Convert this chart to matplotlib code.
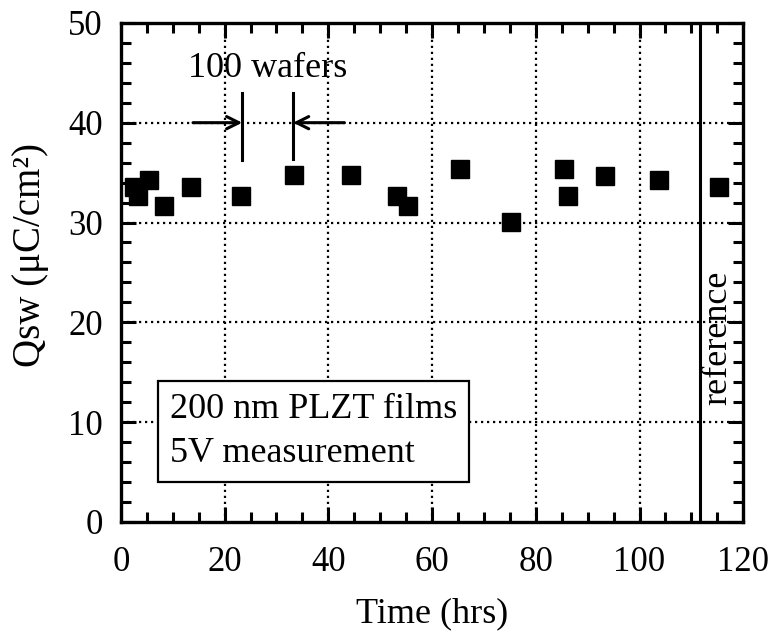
import matplotlib
matplotlib.use("Agg")
import matplotlib.pyplot as plt
from matplotlib.ticker import MultipleLocator

plt.rcParams['font.family'] = ['Liberation Serif', 'DejaVu Serif']

# Qsw vs time
time_hrs = [2.5, 3.3, 5.4, 8.3, 13.5, 23.2, 33.4, 44.4, 53.3, 55.4,
            65.4, 75.3, 85.5, 86.3, 93.4, 103.7, 115.4]
qsw = [33.6, 32.7, 34.3, 31.7, 33.6, 32.7, 34.8, 34.8, 32.7, 31.7,
       35.4, 30.1, 35.4, 32.7, 34.7, 34.3, 33.6]

ref_line_x = 111.7
bar_left, bar_right = 23.4, 33.2

fig = plt.figure(figsize=(7.75, 6.35), dpi=100)
ax = fig.add_axes([0.156, 0.178, 0.803, 0.786])

ax.set_xlim(0, 120)
ax.set_ylim(0, 50)

# dotted grid at the major ticks
for gx in [20, 40, 60, 80, 100]:
    ax.axvline(gx, color='black', lw=1.6, ls=(0, (1, 1.7)), zorder=1)
for gy in [10, 20, 30, 40]:
    ax.axhline(gy, color='black', lw=1.6, ls=(0, (1, 1.7)), zorder=1)

ax.axvline(ref_line_x, color='black', lw=2.2, zorder=2)

ax.plot(time_hrs, qsw, 's', color='black', markersize=13, zorder=3)

# "100 wafers" marker
ax.plot([bar_left, bar_left], [36.3, 43], color='black', lw=2.2, zorder=4)
ax.plot([bar_right, bar_right], [36.4, 43], color='black', lw=2.2, zorder=4)
ax.annotate('', xy=(bar_left, 40), xytext=(13.9, 40),
            arrowprops=dict(arrowstyle='->', color='black', lw=2.2,
                            mutation_scale=22, shrinkA=0, shrinkB=0), zorder=4)
ax.annotate('', xy=(bar_right, 40), xytext=(43.1, 40),
            arrowprops=dict(arrowstyle='->', color='black', lw=2.2,
                            mutation_scale=22, shrinkA=0, shrinkB=0), zorder=4)
ax.text(28.2, 45.4, '100 wafers', fontsize=26, ha='center', va='center')

ax.text(115.1, 18.4, 'reference', fontsize=26, rotation=90,
        ha='center', va='center')

ax.text(9.5, 9.1, '200 nm PLZT films\n5V measurement', fontsize=26,
        ha='left', va='center', linespacing=1.45,
        bbox=dict(boxstyle='square,pad=0.33', fc='white', ec='black', lw=1.6),
        zorder=5)

ax.xaxis.set_major_locator(MultipleLocator(20))
ax.xaxis.set_minor_locator(MultipleLocator(5))
ax.yaxis.set_major_locator(MultipleLocator(10))
ax.yaxis.set_minor_locator(MultipleLocator(2))
ax.tick_params(which='both', direction='in', top=True, right=True, width=2.2,
               labelsize=25)
ax.tick_params(which='major', length=11)
ax.tick_params(which='minor', length=7)
ax.tick_params(axis='x', which='major', pad=17)
ax.tick_params(axis='y', which='major', pad=13)
for s in ax.spines.values():
    s.set_linewidth(2.4)

ax.set_xlabel('Time (hrs)', fontsize=26)
ax.set_ylabel('Qsw (μC/cm²)', fontsize=28)
ax.xaxis.set_label_coords(0.5, -0.15)
ax.yaxis.set_label_coords(-0.115, 0.535)

fig.savefig('out.png', dpi=100)
